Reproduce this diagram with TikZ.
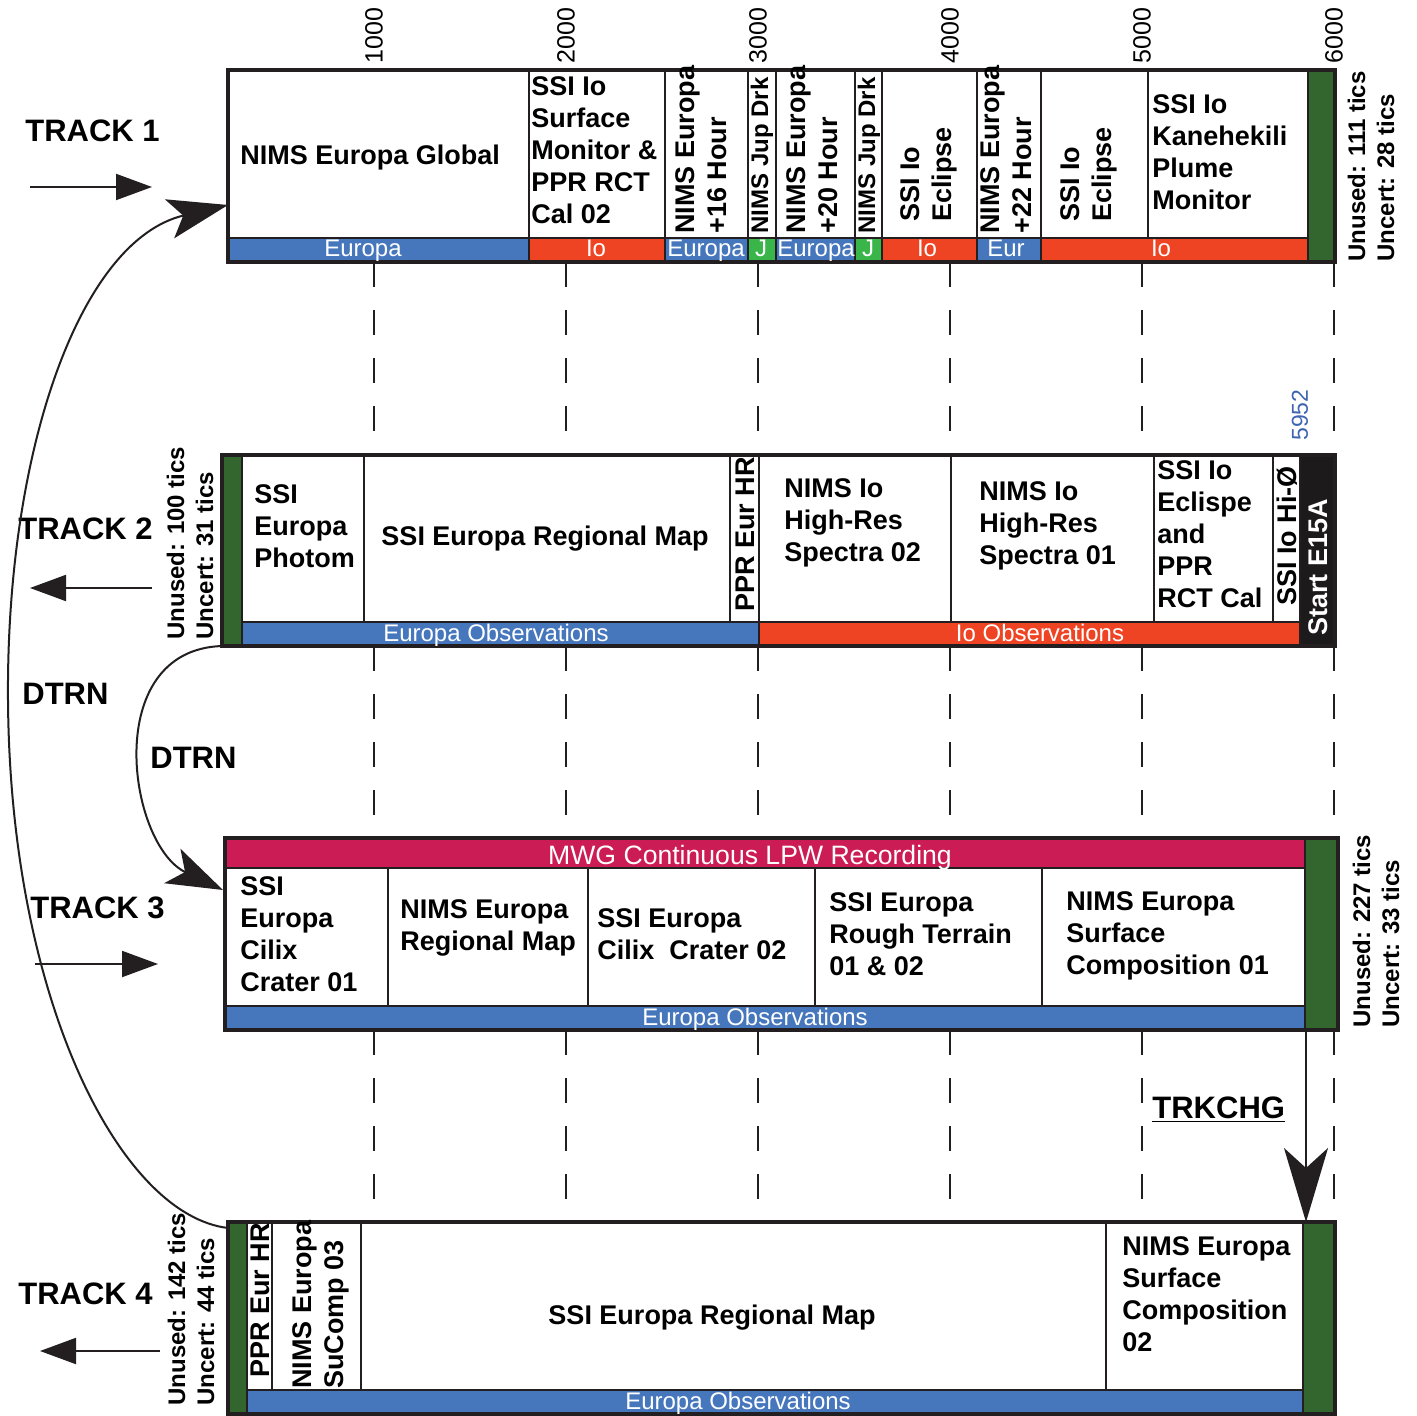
\documentclass[tikz,border=0pt]{standalone}
\usepackage{fontspec}
\setmainfont{Liberation Sans}
\usetikzlibrary{arrows.meta}

\definecolor{ink}{HTML}{231F20}
\definecolor{eurblue}{HTML}{4677BD}
\definecolor{iored}{HTML}{EE4423}
\definecolor{jupgreen}{HTML}{39B54A}
\definecolor{padgreen}{HTML}{33652F}
\definecolor{mwgred}{HTML}{CC1C55}
\definecolor{startblk}{HTML}{1C1A1B}
\definecolor{ticblue}{HTML}{3E64B0}

\begin{document}
\begin{tikzpicture}[x=0.5pt, y=-0.5pt,
    celltxt/.style={font=\fontsize{13.5}{16}\selectfont\bfseries, align=left, inner sep=0pt},
    celltxtv/.style={celltxt, rotate=90, anchor=west},
    tinyv/.style={font=\fontsize{12}{14.5}\selectfont\bfseries, align=left, inner sep=0pt, rotate=90, anchor=west},
    obstxt/.style={font=\fontsize{12}{14}\selectfont, text=white, inner sep=0pt, anchor=base},
    trktxt/.style={font=\fontsize{15.5}{18}\selectfont\bfseries, inner sep=0pt, anchor=west},
    tictxt/.style={font=\fontsize{12.5}{14}\selectfont, inner sep=0pt, rotate=90, anchor=west},
    trkframe/.style={draw=ink, line width=1.6pt},
    divline/.style={draw=ink, line width=1pt},
    guide/.style={draw=ink, line width=0.75pt, dash pattern=on 12.5pt off 11.5pt},
    flow/.style={draw=ink, line width=1pt},
    pointer/.style={flow, -{Triangle[length=18pt, width=13pt]}},
    jump/.style={flow, -{Stealth[length=30pt, width=20pt, inset=7pt]}}]

    \useasboundingbox (0,0) rectangle (1417,1416);

    % tick scale and guides
    \foreach \tk in {1000,2000,...,6000} {
        \draw[guide] ({182+0.192*\tk},262) -- ({182+0.192*\tk},455);
        \draw[guide] ({182+0.192*\tk},646) -- ({182+0.192*\tk},838);
        \draw[guide] ({182+0.192*\tk},1030) -- ({182+0.192*\tk},1222);
        \node[tictxt] (tic\tk) at ({182+0.192*\tk},64) {\tk};
    }

    % track 1
    \coordinate (t1nw) at (228,70);
    \coordinate (t1se) at (1335,262);
    \fill[white] (t1nw) rectangle (t1se);
    \fill[eurblue] (228,238) rectangle (529,262);
    \fill[iored] (529,238) rectangle (665,262);
    \fill[eurblue] (665,238) rectangle (748,262);
    \fill[jupgreen] (748,238) rectangle (776,262);
    \fill[eurblue] (776,238) rectangle (855,262);
    \fill[jupgreen] (855,238) rectangle (882,262);
    \fill[iored] (882,238) rectangle (977,262);
    \fill[eurblue] (977,238) rectangle (1041,262);
    \fill[iored] (1041,238) rectangle (1308,262);
    \fill[padgreen] (1308,70) rectangle (1335,262);
    \draw[divline] (228,238) -- (1308,238);
    \foreach \xx in {529,665,748,776,855,882,977,1041,1308}
        \draw[divline] (\xx,70) -- (\xx,262);
    \draw[divline] (1148,70) -- (1148,238);
    \draw[trkframe] (t1nw) rectangle (t1se);

    \node[celltxt, anchor=west] (eurglob) at (240,158) {NIMS Europa Global};
    \node[celltxt, anchor=west] (iosurf) at (531,150) {SSI Io\\Surface\\Monitor \&\\PPR RCT\\Cal 02};
    \node[celltxtv] (eur16) at (701,234) {NIMS Europa\\+16 Hour};
    \node[tinyv] (jup1) at (762,234) {NIMS Jup Drk};
    \node[celltxtv] (eur20) at (812,234) {NIMS Europa\\+20 Hour};
    \node[tinyv] (jup2) at (869,234) {NIMS Jup Drk};
    \node[celltxtv] (ioecl1) at (929,222) {SSI Io\\Eclipse};
    \node[celltxtv] (eur22) at (1006,234) {NIMS Europa\\+22 Hour};
    \node[celltxtv] (ioecl2) at (1089,222) {SSI Io\\Eclipse};
    \node[celltxt, anchor=west] (plume) at (1152,152) {SSI Io\\Kanehekili\\Plume\\Monitor};
    \node[obstxt] (b1a) at (363,257) {Europa};
    \node[obstxt] (b1b) at (596,257) {Io};
    \node[obstxt] (b1c) at (706,257) {Europa};
    \node[obstxt] (b1d) at (761,257) {J};
    \node[obstxt] (b1e) at (816,257) {Europa};
    \node[obstxt] (b1f) at (868,257) {J};
    \node[obstxt] (b1g) at (927,257) {Io};
    \node[obstxt] (b1h) at (1006,257) {Eur};
    \node[obstxt] (b1i) at (1161,257) {Io};
    \node[tinyv] (left1) at (1371,262) {Unused: 111 tics\\Uncert: 28 tics};

    % track 2
    \coordinate (t2nw) at (222,455);
    \coordinate (t2se) at (1335,646);
    \fill[white] (t2nw) rectangle (t2se);
    \fill[padgreen] (222,455) rectangle (242,646);
    \fill[eurblue] (242,622) rectangle (759,646);
    \fill[iored] (759,622) rectangle (1300,646);
    \fill[startblk] (1300,455) rectangle (1335,646);
    \draw[divline] (242,622) -- (1300,622);
    \foreach \xx in {242,759,1300}
        \draw[divline] (\xx,455) -- (\xx,646);
    \foreach \xx in {364,730,951,1154,1273}
        \draw[divline] (\xx,455) -- (\xx,622);
    \draw[trkframe] (t2nw) rectangle (t2se);

    \node[celltxt, anchor=west] (photom) at (254,526) {SSI\\Europa\\Photom};
    \node[celltxt] (regmap2) at (545,539) {SSI Europa Regional Map};
    \node[celltxtv] (pprhr2) at (745,612) {PPR Eur HR};
    \node[celltxt, anchor=west] (spec02) at (784,523) {NIMS Io\\High-Res\\Spectra 02};
    \node[celltxt, anchor=west] (spec01) at (979,526) {NIMS Io\\High-Res\\Spectra 01};
    \node[celltxt, anchor=west] (ioecl3) at (1157,534) {SSI Io\\Eclispe\\and\\PPR\\RCT Cal};
    \node[celltxtv] (hiphi) at (1287,606) {SSI Io Hi-Ø};
    \node[celltxtv, text=white] (start) at (1318,636) {Start E15A};
    \node[obstxt] (b2a) at (496,641) {Europa Observations};
    \node[obstxt] (b2b) at (1040,641) {Io Observations};
    \node[tictxt, font=\fontsize{11.5}{13}\selectfont, text=ticblue] (endtic) at (1300,441) {5952};
    \node[tinyv] (left2) at (190,640) {Unused: 100 tics\\Uncert: 31 tics};

    % track 3
    \coordinate (t3nw) at (225,838);
    \coordinate (t3se) at (1338,1030);
    \fill[white] (t3nw) rectangle (t3se);
    \fill[mwgred] (225,838) rectangle (1305,868);
    \fill[eurblue] (225,1006) rectangle (1305,1030);
    \fill[padgreen] (1305,838) rectangle (1338,1030);
    \draw[divline] (225,868) -- (1305,868);
    \draw[divline] (225,1006) -- (1305,1006);
    \draw[divline] (1305,838) -- (1305,1030);
    \foreach \xx in {388,588,815,1042}
        \draw[divline] (\xx,868) -- (\xx,1006);
    \draw[trkframe] (t3nw) rectangle (t3se);

    \node[celltxt, anchor=west] (cilix1) at (240,934) {SSI\\Europa\\Cilix\\Crater 01};
    \node[celltxt, anchor=west] (regmap3) at (400,928) {NIMS Europa\\Regional Map};
    \node[celltxt, anchor=west] (cilix2) at (597,934) {SSI Europa\\Cilix~~Crater 02};
    \node[celltxt, anchor=west] (rough) at (829,934) {SSI Europa\\Rough Terrain\\01 \& 02};
    \node[celltxt, anchor=west] (sucomp1) at (1066,936) {NIMS Europa\\Surface\\Composition 01};
    \node[obstxt, font=\fontsize{13.3}{15}\selectfont] (mwg) at (750,864) {MWG Continuous LPW Recording};
    \node[obstxt] (b3a) at (755,1025) {Europa Observations};
    \node[tinyv] (left3) at (1376,1028) {Unused: 227 tics\\Uncert: 33 tics};

    % track 4
    \coordinate (t4nw) at (228,1222);
    \coordinate (t4se) at (1335,1414);
    \fill[white] (t4nw) rectangle (t4se);
    \fill[padgreen] (228,1222) rectangle (247,1414);
    \fill[padgreen] (1303,1222) rectangle (1335,1414);
    \fill[eurblue] (247,1390) rectangle (1303,1414);
    \draw[divline] (247,1390) -- (1303,1390);
    \foreach \xx in {247,1303}
        \draw[divline] (\xx,1222) -- (\xx,1414);
    \foreach \xx in {272,361,1106}
        \draw[divline] (\xx,1222) -- (\xx,1390);
    \draw[trkframe] (t4nw) rectangle (t4se);

    \node[celltxtv] (pprhr4) at (260,1378) {PPR Eur HR};
    \node[celltxtv] (sucomp3) at (321,1389) {NIMS Europa\\SuComp 03};
    \node[celltxt] (regmap4) at (712,1318) {SSI Europa Regional Map};
    \node[celltxt, anchor=west] (sucomp2) at (1122,1294) {NIMS Europa\\Surface\\Composition\\02};
    \node[obstxt] (b4a) at (738,1409) {Europa Observations};
    \node[tinyv] (left4) at (191,1406) {Unused: 142 tics\\Uncert: 44 tics};

    % track labels and direction arrows
    \node[trktxt] (trk1) at (25,131) {TRACK 1};
    \node[trktxt] (trk2) at (18,529) {TRACK 2};
    \node[trktxt] (trk3) at (30,908) {TRACK 3};
    \node[trktxt] (trk4) at (18,1294) {TRACK 4};
    \coordinate (d1a) at (30,187);   \coordinate (d1b) at (152,187);
    \coordinate (d2a) at (152,588);  \coordinate (d2b) at (30,588);
    \coordinate (d3a) at (35,964);   \coordinate (d3b) at (158,964);
    \coordinate (d4a) at (160,1351); \coordinate (d4b) at (40,1351);
    \draw[pointer] (d1a) -- (d1b);
    \draw[pointer] (d2a) -- (d2b);
    \draw[pointer] (d3a) -- (d3b);
    \draw[pointer] (d4a) -- (d4b);

    % turnarounds
    \node[trktxt] (dtrn1) at (22,694) {DTRN};
    \node[trktxt] (dtrn2) at (150,758) {DTRN};
    \node[trktxt] (trkchg) at (1152,1110) {\underline{TRKCHG}};
    \coordinate (t4out) at (228,1228);
    \coordinate (t1in) at (228,205);
    \coordinate (t2out) at (222,646);
    \coordinate (t3in) at (223,890);
    \coordinate (t3out) at (1306,1030);
    \coordinate (t4in) at (1306,1222);
    \draw[jump] (t4out) .. controls (120,1215) and (10,1000) .. (8,700)
        .. controls (6,450) and (80,240) .. (t1in);
    \draw[jump, -{Stealth[length=28pt, width=19pt, inset=7pt]}] (t2out) .. controls (100,650) and (128,845) .. (t3in);
    \draw[jump, -{Stealth[length=37pt, width=22pt, inset=10pt]}] (t3out) -- (t4in);

\end{tikzpicture}
\end{document}
